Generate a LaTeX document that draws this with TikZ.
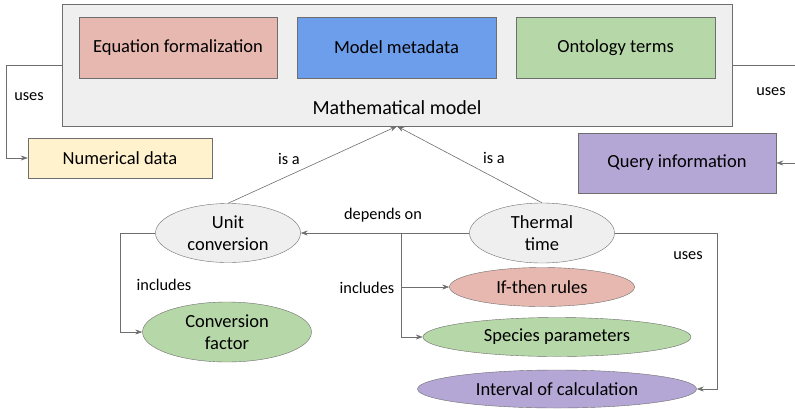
\documentclass[tikz,border=0pt]{standalone}
\usepackage{fontspec}
\setmainfont{Carlito}
\usetikzlibrary{shapes.geometric,arrows.meta}
\definecolor{boxgray}{HTML}{EFEFEF}
\definecolor{linegray}{HTML}{6E6E6E}
\definecolor{eqpink}{HTML}{E6B8AF}
\definecolor{metablue}{HTML}{6D9EEB}
\definecolor{ontogreen}{HTML}{B6D7A8}
\definecolor{datayellow}{HTML}{FFF2CC}
\definecolor{querypurple}{HTML}{B4A7D6}
\tikzset{
  box/.style={draw=linegray,rectangle,inner sep=0pt,font=\fontsize{18.5}{20}\selectfont},
  oval/.style={draw=linegray,ellipse,inner sep=0pt,align=center,font=\fontsize{18.5}{22}\selectfont},
  lbl/.style={font=\fontsize{16.3}{18}\selectfont},
  arr/.style={draw=linegray,semithick,-{Stealth[length=7pt,width=5pt]}},
}
\begin{document}
\begin{tikzpicture}[x=1pt,y=-1pt]
  \useasboundingbox (0,0) rectangle (795,408);
  % Mathematical model
  \node[box,fill=boxgray,minimum width=670,minimum height=122] (model) at (397,65) {};
  \node[box,fill=eqpink,minimum width=198,minimum height=61] (eq) at (178,47.5) {Equation formalization};
  \node[box,fill=metablue,minimum width=199,minimum height=61] (meta) at (396.5,47.5) {Model metadata};
  \node[box,fill=ontogreen,minimum width=199,minimum height=61] (onto) at (615.5,47.5) {Ontology terms};
  \node[box,draw=none,anchor=base,font=\fontsize{20}{22}\selectfont] (modeltitle) at (397,114) {Mathematical model};
  % data
  \node[box,fill=datayellow,minimum width=184,minimum height=40] (numdata) at (120,158) {Numerical data};
  \node[box,fill=querypurple,minimum width=198,minimum height=60] (query) at (677,163) {Query information};
  % ellipses
  \node[oval,fill=boxgray,minimum width=145,minimum height=59] (unit) at (228,233) {Unit\\conversion};
  \node[oval,fill=boxgray,minimum width=145,minimum height=60] (thermal) at (542,233) {Thermal\\time};
  \node[oval,fill=ontogreen,minimum width=169,minimum height=60] (convfactor) at (227,332) {Conversion\\factor};
  \node[oval,fill=eqpink,minimum width=185,minimum height=39] (ifthen) at (542,287) {If-then rules};
  \node[oval,fill=ontogreen,minimum width=268,minimum height=39] (species) at (557,337) {Species parameters};
  \node[oval,fill=querypurple,minimum width=279,minimum height=38] (interval) at (557,389) {Interval of calculation};
  % connectors
  \draw[arr] (model.west) -- ++(-56,0) |- (numdata.west);
  \node[lbl] (usesleft) at (29,97) {uses};
  \draw[arr] (model.east) -- ++(64,0) |- (query.east);
  \node[lbl] (usesright) at (771,92) {uses};
  \draw[arr] (unit.north) -- (model.south);
  \node[lbl] (isaleft) at (289,159) {is a};
  \draw[arr] (thermal.north) -- (model.south);
  \node[lbl] (isaright) at (494,158) {is a};
  \draw[arr] (thermal.west) -- (unit.east);
  \node[lbl] (depends) at (383,215) {depends on};
  \coordinate (incl) at (401,233);
  \draw[arr] (incl) |- (species.west);
  \draw[arr] (incl |- ifthen.west) -- (ifthen.west);
  \node[lbl] (inclright) at (367,288) {includes};
  \draw[arr] (unit.west) -- ++(-35,0) |- (convfactor.west);
  \node[lbl] (inclleft) at (164,285) {includes};
  \draw[arr] (thermal.east) -- ++(103,0) |- (interval.east);
  \node[lbl] (usesthermal) at (688,256) {uses};
\end{tikzpicture}
\end{document}
